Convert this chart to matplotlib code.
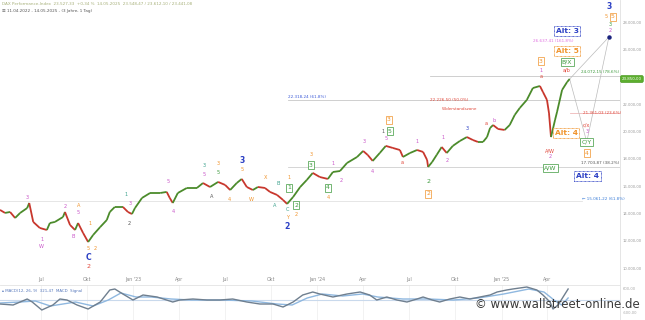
import numpy as np
import pandas as pd
import matplotlib
matplotlib.use('Agg')
import matplotlib.pyplot as plt
import matplotlib.dates as mdates
from matplotlib.collections import LineCollection
from matplotlib.transforms import blended_transform_factory

# DAX closes
price_dates = ['2022-04-11', '2022-04-21', '2022-05-01', '2022-05-11', '2022-05-21', '2022-06-04',
               '2022-06-08', '2022-06-16', '2022-06-29', '2022-07-13', '2022-07-19', '2022-07-29',
               '2022-08-14', '2022-08-18', '2022-08-28', '2022-09-07', '2022-09-13', '2022-09-23',
               '2022-10-03', '2022-10-13', '2022-10-27', '2022-11-09', '2022-11-15', '2022-11-25',
               '2022-12-11', '2022-12-21', '2022-12-29', '2023-01-04', '2023-01-18', '2023-02-03',
               '2023-02-23', '2023-03-08', '2023-03-14', '2023-03-20', '2023-03-30', '2023-04-17',
               '2023-05-07', '2023-05-19', '2023-06-02', '2023-06-18', '2023-07-02', '2023-07-12',
               '2023-07-25', '2023-08-04', '2023-08-14', '2023-08-26', '2023-09-05', '2023-09-19',
               '2023-09-29', '2023-10-13', '2023-10-25', '2023-11-02', '2023-11-14', '2023-11-28',
               '2023-12-11', '2023-12-23', '2024-01-06', '2024-01-22', '2024-02-01', '2024-02-15',
               '2024-02-29', '2024-03-20', '2024-04-01', '2024-04-10', '2024-04-20', '2024-05-04',
               '2024-05-16', '2024-05-30', '2024-06-13', '2024-06-19', '2024-07-03', '2024-07-17',
               '2024-07-29', '2024-08-06', '2024-08-08', '2024-08-16', '2024-08-25', '2024-09-04',
               '2024-09-14', '2024-09-26', '2024-10-10', '2024-10-24', '2024-11-05', '2024-11-15',
               '2024-11-25', '2024-12-03', '2024-12-09', '2024-12-15', '2024-12-25', '2025-01-07',
               '2025-01-17', '2025-01-27', '2025-02-06', '2025-02-20', '2025-03-04', '2025-03-18',
               '2025-03-24', '2025-04-01', '2025-04-05', '2025-04-09', '2025-04-17', '2025-04-21',
               '2025-05-01', '2025-05-11', '2025-05-16']
price_close = [14260, 14040, 14110, 13670, 14040, 14400,
               14770, 13380, 12940, 12790, 13300, 13380,
               13740, 14110, 13160, 12790, 13300, 12570,
               11910, 12430, 13010, 13520, 14110, 14480,
               14480, 14110, 13960, 14400, 15140, 15500,
               15500, 15580, 15140, 14770, 15500, 15870,
               15870, 16230, 15940, 16310, 16090, 15720,
               16230, 16530, 15940, 15720, 15940, 15870,
               15580, 15360, 14990, 14700, 15210, 15940,
               16450, 16970, 16670, 16530, 17040, 17110,
               17700, 18140, 18580, 18290, 17850, 18430,
               18950, 18800, 18650, 18140, 18430, 18650,
               18510, 17920, 17410, 17770, 18290, 18870,
               18430, 18950, 19310, 19600, 19380, 19240,
               19240, 19600, 20260, 20480, 20190, 20120,
               20480, 21220, 21730, 22320, 23190, 23340,
               22900, 22320, 21360, 19600, 20850, 21440,
               23050, 23630, 23850]

# indicator panel (MACD-like), main and signal line
macd_dates = ['2022-04-11', '2022-05-07', '2022-06-04', '2022-06-14', '2022-07-03', '2022-07-25',
              '2022-08-08', '2022-08-22', '2022-09-11', '2022-10-03', '2022-10-27', '2022-11-15',
              '2022-11-25', '2022-12-11', '2022-12-31', '2023-01-20', '2023-02-17', '2023-03-20',
              '2023-04-03', '2023-04-29', '2023-05-27', '2023-06-22', '2023-07-17', '2023-08-14',
              '2023-09-09', '2023-10-05', '2023-10-25', '2023-11-14', '2023-12-03', '2023-12-23',
              '2024-01-06', '2024-02-01', '2024-02-29', '2024-03-26', '2024-04-14', '2024-04-28',
              '2024-05-18', '2024-06-07', '2024-06-27', '2024-07-17', '2024-07-29', '2024-08-16',
              '2024-08-31', '2024-09-20', '2024-10-10', '2024-10-30', '2024-11-19', '2024-12-09',
              '2024-12-23', '2025-01-11', '2025-01-23', '2025-02-20', '2025-03-12', '2025-03-24',
              '2025-04-07', '2025-04-13', '2025-04-23', '2025-05-03', '2025-05-13']
macd_vals = [-200, -250, 50, -100, -500, -250, 50, 0, -250, -450, -100, 500,
             550, 300, 0, 250, 150, -100, 0, 50, 0, 0, 50, -100,
             -200, -200, -350, -100, 250, 400, 300, 150, 300, 400, 250, 0,
             150, 0, -100, 50, 150, 0, -100, 50, 150, 50, 150, 250,
             400, 500, 550, 650, 500, 250, -100, -450, -250, 150, 550]
signal_dates = ['2022-04-11', '2022-05-21', '2022-06-20', '2022-07-20', '2022-08-14', '2022-09-08',
                '2022-10-13', '2022-11-12', '2022-12-07', '2023-01-06', '2023-02-05', '2023-03-17',
                '2023-04-26', '2023-06-25', '2023-08-24', '2023-10-13', '2023-11-12', '2023-12-12',
                '2024-01-11', '2024-02-20', '2024-03-31', '2024-04-30', '2024-06-19', '2024-08-08',
                '2024-09-27', '2024-11-16', '2025-01-05', '2025-02-24', '2025-03-26', '2025-04-15',
                '2025-04-30', '2025-05-13']
signal_vals = [-150, -100, -50, -300, -200, -100, -300, 0, 350, 150, 150, 50,
               0, 0, -50, -200, -250, 100, 300, 200, 300, 150, 50, 50,
               0, 100, 300, 550, 400, 0, -250, 100]

x_ticks = ['2022-07-01', '2022-10-01', '2023-01-01', '2023-04-01', '2023-07-01', '2023-10-01',
           '2024-01-01', '2024-04-01', '2024-07-01', '2024-10-01', '2025-01-01', '2025-04-01']
x_labels = ['Jul', 'Okt', "Jan '23", 'Apr', 'Jul', 'Okt', "Jan '24", 'Apr', 'Jul', 'Okt', "Jan '25", 'Apr']
# 24.000 sits under the current-price box, so it is not labelled
y_ticks = [10000, 12000, 14000, 16000, 18000, 20000, 22000, 26000, 28000]

O, P, G, B, T, R, K = '#f0932b', '#c956c9', '#3d9a3d', '#2b3fc4', '#3aa08c', '#e0473a', '#555555'

# elliott wave labels: date, price, text, colour, kind
labels = [
    ('2022-06-04', 15140, '3', P, 's'), ('2022-07-03', 12130, '1', P, 's'),
    ('2022-07-03', 11550, 'W', P, 's'), ('2022-08-18', 14480, '2', P, 's'),
    ('2022-09-03', 12280, 'B', P, 's'), ('2022-09-15', 14620, 'A', O, 's'),
    ('2022-09-13', 14040, '5', P, 's'), ('2022-10-07', 13300, '1', O, 's'),
    ('2022-10-03', 11400, '5', O, 's'), ('2022-10-17', 11470, '2', O, 's'),
    ('2022-10-03', 10740, 'C', B, 'b'), ('2022-10-03', 10150, '2', R, 'm'),
    ('2022-12-17', 15360, '1', T, 's'), ('2022-12-25', 14700, '3', P, 's'),
    ('2022-12-23', 13300, '2', K, 's'), ('2023-03-10', 16310, '5', P, 's'),
    ('2023-03-22', 14110, '4', P, 's'), ('2023-05-21', 17480, '3', T, 's'),
    ('2023-05-21', 16890, '5', P, 's'), ('2023-06-18', 17630, '3', O, 's'),
    ('2023-06-18', 16970, '5', G, 's'), ('2023-06-06', 15210, 'A', K, 's'),
    ('2023-07-10', 15060, '4', O, 's'), ('2023-08-04', 17850, '3', B, 'b'),
    ('2023-08-04', 17190, '5', O, 's'), ('2023-08-24', 14990, 'W', O, 's'),
    ('2023-09-21', 16670, 'X', O, 's'), ('2023-10-15', 16230, 'B', T, 's'),
    ('2023-10-09', 14620, 'A', T, 's'), ('2023-11-06', 16600, '1', O, 's'),
    ('2023-11-06', 15870, '1', G, 'box'), ('2023-11-02', 14260, 'C', T, 's'),
    ('2023-11-02', 13740, 'Y', O, 's'), ('2023-11-02', 13010, '2', B, 'b'),
    ('2023-11-20', 14620, '2', G, 'box'), ('2023-11-20', 13890, '2', O, 's'),
    ('2023-12-19', 18290, '3', O, 's'), ('2023-12-19', 17550, '3', G, 'box'),
    ('2024-01-22', 15870, '4', G, 'box'), ('2024-01-22', 15140, '4', O, 's'),
    ('2024-02-01', 17630, '1', P, 's'), ('2024-02-17', 16450, '2', P, 's'),
    ('2024-04-03', 19240, '3', P, 's'), ('2024-04-20', 17040, '4', P, 's'),
    ('2024-05-16', 19460, '5', P, 's'), ('2024-05-10', 20040, '1', K, 's'),
    ('2024-05-24', 20040, '5', G, 'box'), ('2024-05-22', 20850, '3', O, 'box'),
    ('2024-06-17', 17770, 'a', R, 's'), ('2024-07-17', 19240, '1', P, 's'),
    ('2024-08-08', 16310, '2', G, 'm'), ('2024-08-08', 15430, '2', O, 'box'),
    ('2024-09-06', 19600, '1', P, 's'), ('2024-09-14', 17850, '2', P, 's'),
    ('2024-10-24', 20260, '3', B, 's'), ('2024-12-01', 20560, 'a', R, 's'),
    ('2024-12-17', 20780, 'b', P, 's'), ('2025-03-20', 25170, '3', O, 'box'),
    ('2025-03-20', 24510, '1', P, 's'), ('2025-03-20', 24000, 'a', R, 's'),
    ('2025-05-11', 27370, 'Alt: 3', B, 'alt'), ('2025-05-11', 25900, 'Alt: 5', O, 'alt'),
    ('2025-05-11', 25100, 'B/X', G, 'box'), ('2025-05-11', 24510, 'a/b', R, 's'),
    ('2025-08-02', 29130, '3', B, 'b'), ('2025-07-27', 28400, '5', O, 's'),
    ('2025-08-10', 28400, '5', O, 'box'), ('2025-08-04', 27810, '3', G, 's'),
    ('2025-08-04', 27440, '2', P, 's'), ('2025-05-09', 19900, 'Alt: 4', O, 'alt'),
    ('2025-04-07', 18580, 'A/W', R, 's'), ('2025-04-07', 18140, '2', P, 's'),
    ('2025-04-08', 17330, 'A/W', G, 'box'), ('2025-06-19', 20480, 'c/x', R, 's'),
    ('2025-06-19', 19970, '3', P, 's'), ('2025-06-19', 19240, 'C/Y', G, 'box'),
    ('2025-06-19', 18430, '4', O, 'box'), ('2025-06-21', 16750, 'Alt: 4', B, 'alt'),
]

# fibonacci / level texts: date, price, text, colour, alignment
level_texts = [
    ('2023-11-04', 22530, '22.318,24 (61.8%)', '#3d5bd8', 'left'),
    ('2024-08-12', 22320, '22.226,50 (50.0%)', R, 'left'),
    ('2024-09-04', 21660, 'Widerstandszone', R, 'left'),
    ('2025-04-14', 26640, '26.637,41 (161.8%)', '#e070e0', 'center'),
    ('2025-07-15', 24370, '24.072,15 (78.6%)', G, 'center'),
    ('2025-07-19', 21360, '21.361,03 (23.6%)', R, 'center'),
    ('2025-07-15', 17700, '17.703,87 (38.2%)', K, 'center'),
    ('2025-07-21', 15060, '\u2190 15.061,22 (61.8%)', '#3d7fd8', 'center'),
]
# horizontal levels: price, start, end, colour
hlevels = [
    (22320, '2023-11-04', '2025-08-24', '#c8c8c8'),
    (24070, '2024-08-12', '2025-08-24', '#c8c8c8'),
    (17410, '2023-11-04', '2025-08-24', '#cfcfcf'),
    (14920, '2022-04-11', '2025-06-10', '#e2e2e2'),
    (21360, '2025-05-16', '2025-08-24', '#efb8b8'),
]
proj_dates = ['2025-05-16', '2025-06-19', '2025-08-02']
proj_prices = [23850, 19240, 26930]


def de_num(v):
    s = '{:,.2f}'.format(v)
    return s.replace(',', '#').replace('.', ',').replace('#', '.')


fig = plt.figure(figsize=(6.45, 3.2), dpi=100)
ax = fig.add_axes([0, 35 / 320, 620 / 645, 285 / 320])
axi = fig.add_axes([0, 0, 620 / 645, 35 / 320])

x0, x1 = pd.Timestamp('2022-04-11'), pd.Timestamp('2025-08-24')

# price line coloured by direction
xd = mdates.date2num(pd.to_datetime(price_dates))
yc = np.array(price_close, dtype=float)
segs = np.stack([np.column_stack([xd[:-1], yc[:-1]]), np.column_stack([xd[1:], yc[1:]])], axis=1)
cols = ['#4b8b2b' if b >= a else '#c8372d' for a, b in zip(yc[:-1], yc[1:])]
ax.add_collection(LineCollection(segs, colors=cols, linewidths=1.3, zorder=3))

for p, s, e, c in hlevels:
    ax.plot(pd.to_datetime([s, e]), [p, p], color=c, lw=0.6, zorder=1)

ax.plot(pd.to_datetime(proj_dates), proj_prices, color='#bbbbbb', lw=0.5, zorder=1)
ax.plot(pd.to_datetime([proj_dates[0], proj_dates[-1]]), [proj_prices[0], proj_prices[-1]],
        color='#bbbbbb', lw=0.5, zorder=1)
ax.plot(pd.to_datetime([proj_dates[-1]]), [proj_prices[-1]], 'o', color='#1a237e', ms=2.2, zorder=4)

for d, p, t, c, kind in labels:
    xy = (pd.Timestamp(d), p)
    if kind == 's':
        ax.text(*xy, t, color=c, fontsize=3.6, ha='center', va='center', zorder=5)
    elif kind == 'm':
        ax.text(*xy, t, color=c, fontsize=4.6, ha='center', va='center', zorder=5)
    elif kind == 'b':
        ax.text(*xy, t, color=c, fontsize=5.6, fontweight='bold', ha='center', va='center', zorder=5)
    elif kind == 'box':
        ax.text(*xy, t, color=c, fontsize=4.4, ha='center', va='center', zorder=5,
                bbox=dict(boxstyle='square,pad=0.2', fc='white', ec=c, lw=0.5))
    else:
        ax.text(*xy, t, color=c, fontsize=5.4, fontweight='bold', ha='center', va='center', zorder=5,
                bbox=dict(boxstyle='square,pad=0.25', fc='white', ec=c, lw=0.6, ls=(0, (1, 0.6))))

for d, p, t, c, ha in level_texts:
    ax.text(pd.Timestamp(d), p, t, color=c, fontsize=3.0, ha=ha, va='center', zorder=5)

ax.set_xlim(x0, x1)
ax.set_ylim(8760, 29640)
for s in ['top', 'left', 'bottom']:
    ax.spines[s].set_visible(False)
ax.spines['right'].set_color('#e0e0e0')
ax.spines['right'].set_linewidth(0.6)
ax.yaxis.tick_right()
ax.set_yticks(y_ticks, [de_num(v) for v in y_ticks])
ax.tick_params(axis='y', length=0, labelsize=2.7, labelcolor='#999999', pad=2)
ax.set_xticks(pd.to_datetime(x_ticks), x_labels)
ax.tick_params(axis='x', length=0, labelsize=3.4, labelcolor='#888888', pad=-6)

# current price box
tr = blended_transform_factory(ax.transAxes, ax.transData)
ax.text(1.003, price_close[-1], de_num(price_close[-1]), transform=tr, fontsize=2.9, color='white',
        ha='left', va='center', zorder=6, clip_on=False,
        bbox=dict(boxstyle='round,pad=0.35', fc='#5cae2e', ec='#4a9a22', lw=0.5))

# header
ax.text(0.004, 0.986, 'DAX Performance-Index  23.527,33  +0,34 %  14.05.2025  23.548,47 / 23.612,10 / 23.441,08',
        transform=ax.transAxes, fontsize=3.0, color='#a7b07a', ha='left', va='center')
ax.text(0.004, 0.961, '\u2630 11.04.2022 - 14.05.2025 - (3 Jahre, 1 Tag)',
        transform=ax.transAxes, fontsize=3.0, color='#555555', ha='left', va='center')

# indicator panel
axi.axhline(0, color='#c9d9ec', lw=0.8, zorder=1)
for d in x_ticks:
    axi.axvline(pd.Timestamp(d), color='#f0f0f0', lw=0.6, zorder=0)
axi.plot(pd.to_datetime(signal_dates), signal_vals, color='#8fb8e0', lw=1.0, zorder=2)
axi.plot(pd.to_datetime(macd_dates), macd_vals, color='#6f7f8f', lw=1.0, zorder=3)
axi.set_xlim(x0, x1)
axi.set_ylim(-1000, 750)
for s in ['left', 'bottom']:
    axi.spines[s].set_visible(False)
axi.spines['top'].set_color('#e3e3e3')
axi.spines['right'].set_color('#e0e0e0')
axi.spines['top'].set_linewidth(0.6)
axi.spines['right'].set_linewidth(0.6)
axi.set_xticks([])
axi.yaxis.tick_right()
axi.set_yticks([600, -600], ['600,00', '-600,00'])
axi.tick_params(axis='y', length=0, labelsize=2.7, labelcolor='#aaaaaa', pad=2)
axi.text(0.004, 0.82, '\u25b4 MACD(12, 26, 9)  321,47  MACD  Signal', transform=axi.transAxes,
         fontsize=2.8, color='#5577bb', ha='left', va='center')

fig.text(0.992, 0.05, '\u00a9 www.wallstreet-online.de', ha='right', va='center',
         fontsize=8.5, color='#3a3a3a')

fig.savefig('out.png', dpi=100, facecolor='white')
